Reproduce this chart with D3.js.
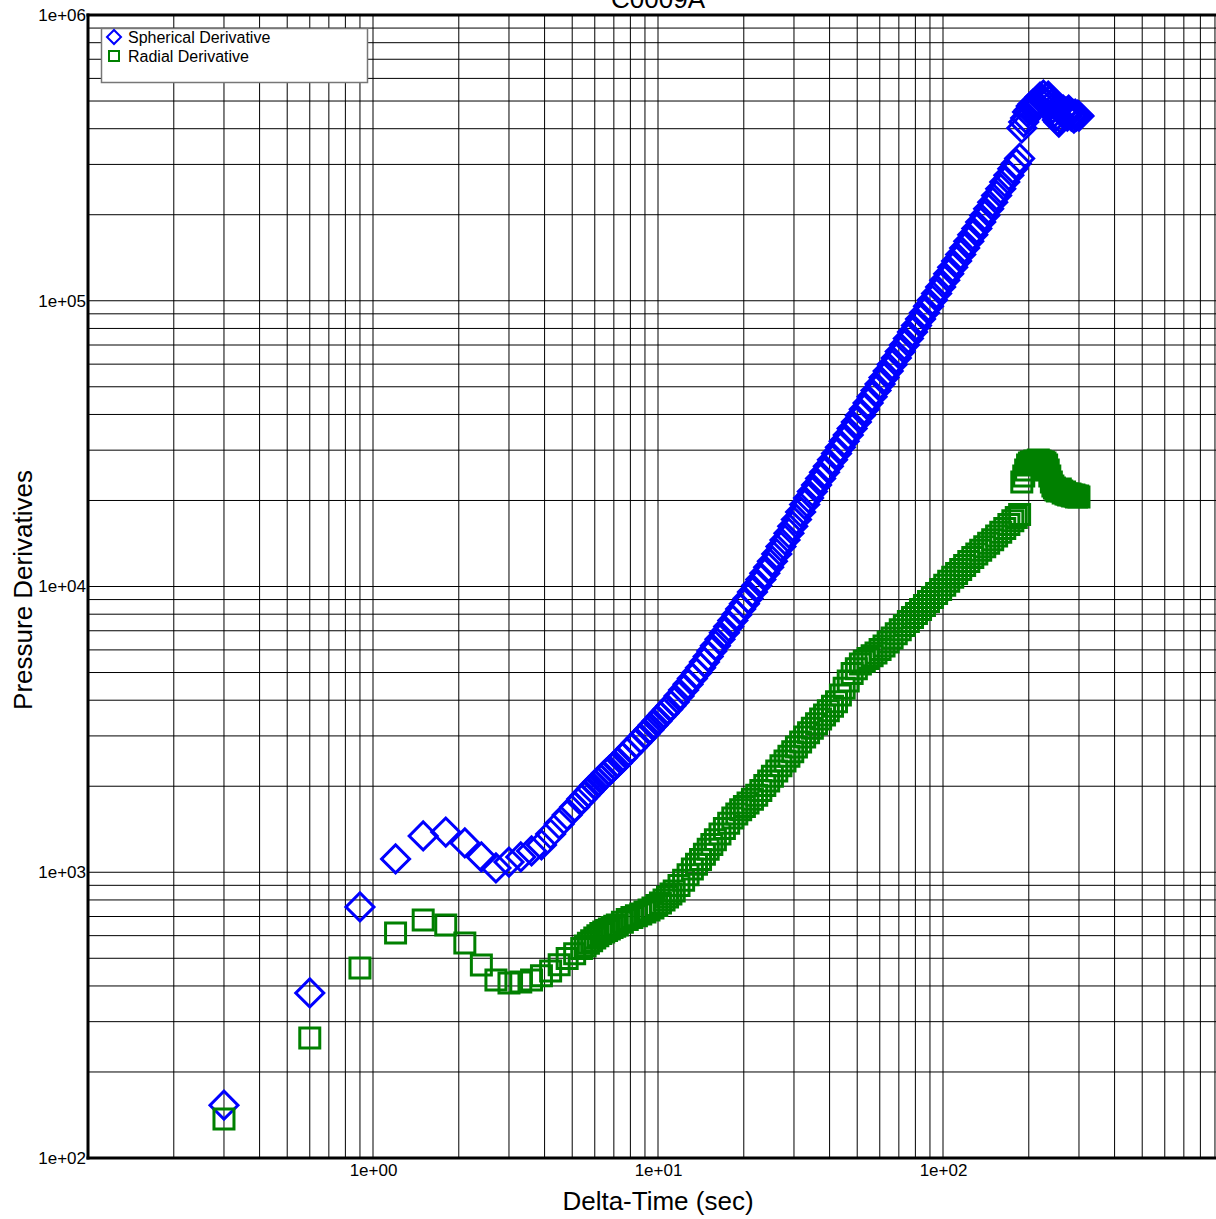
<!DOCTYPE html>
<meta charset="utf-8">
<style>
    body { margin: 0; background: #fff; }
    svg { display: block; font-family: Arial, "Liberation Sans", sans-serif; }
    .grid line { stroke: #000; stroke-width: 1; }
    .frame { stroke: #000; stroke-width: 3; }
</style>
<svg width="1216" height="1219"></svg>
<script src="https://d3js.org/d3.v7.min.js"></script>
<script>

    // delta-time (sec) of each sample
    var times = [0.3,0.6,0.9,1.2,1.5,1.8,2.1,2.4,2.7,3.0,3.3,3.6,3.9,4.2,4.5,4.8,5.1,
        5.4,5.55,5.7,5.85,6.0,6.15,6.3,6.45,6.6,6.75,
        6.9,7.05,7.2,7.5,7.8,8.1,8.4,8.7,9.0,9.3,
        9.6,9.9,10.2,10.5,10.8,11.1,11.4,11.85,12.3,12.75,
        13.2,13.65,14.1,14.55,15.0,15.45,15.9,16.5,17.1,17.7,
        18.3,18.9,19.5,20.1,20.7,21.45,22.2,22.95,23.7,24.45,
        25.2,26.1,27.0,27.9,28.8,29.7,30.6,31.65,32.7,33.75,
        34.8,36.0,37.2,38.4,39.6,40.95,42.3,43.65,45.0,46.5,
        48.0,49.65,51.3,52.95,54.6,56.4,58.2,60.15,62.1,64.2,
        66.3,68.55,70.8,73.2,75.6,78.15,80.7,83.4,86.1,88.95,
        91.8,94.95,98.1,101.4,104.7,108.15,111.6,115.35,119.1,123.15,
        127.2,131.4,135.6,140.1,144.6,149.4,154.2,159.45,164.7,170.25,
        175.8,180.75,185.7,
        189,192,195,198,201,204,207,210,213,216,219,222,225,228,231,234,237,240,243,246,
        249,252,255,258,261,264,267,270,273,276,279,282,285,288,291,294,297,300];

    var spherical = [153,378,756,1113,1340,1383,1266,1131,1035,1086,1131,1187,1246,1361,1475,1586,1692,
        1804,1856,1909,1964,2020,2069,2120,2172,2225,2271,
        2317,2364,2412,2517,2627,2729,2834,2938,3046,3155,
        3268,3379,3494,3603,3715,3828,3944,4140,4345,4552,
        4769,4978,5197,5439,5693,5943,6205,6539,6890,7241,
        7610,7969,8344,8708,9087,9571,10080,10587,11120,11676,
        12260,13002,13790,14558,15370,16240,17160,18237,19380,20413,
        21500,22659,23880,25084,26350,27752,29230,30703,32250,33927,
        35690,37642,39700,41738,43880,46160,48560,51128,53830,56732,
        59790,63019,66420,70008,73790,77745,81910,86254,90830,95590,
        100600,106053,111800,117884,124300,130877,137800,145203,153000,161371,
        170200,179165,188600,198917,209800,221284,233400,246533,260400,274751,
        289900,302140,314900,
        402300,422200,436000,457600,465000,480300,488100,472600,488100,504100,516400,508200,524800,496000,512300,520600,504100,488100,472600,457600,
        443100,429000,422200,436000,457600,465000,450300,457600,443100,465000,457600,443100,450300,436000,450300,443100,446700,443100];

    var radial = [137,263,462,613,681,654,565,474,420,410,413,420,434,451,475,499,519,
        541,552,564,576,589,600,611,618,626,633,
        641,647,654,668,683,694,705,715,726,738,
        750,765,780,799,819,839,860,898,937,981,
        1027,1067,1109,1155,1203,1250,1299,1360,1424,1485,
        1548,1600,1654,1699,1746,1802,1859,1934,2012,2088,
        2167,2261,2358,2451,2547,2643,2742,2855,2972,3080,
        3192,3312,3436,3554,3677,3813,3954,4173,4404,4674,
        4961,5152,5351,5472,5595,5724,5855,6021,6192,6398,
        6610,6831,7060,7296,7540,7788,8045,8308,8580,8859,
        9146,9453,9770,10095,10430,10765,11110,11474,11850,12234,
        12630,13000,13380,13769,14170,14584,15010,15483,15970,16467,
        16980,17425,17880,
        23210,24360,25560,26620,27050,27270,27270,27490,27270,27710,27490,27270,27270,27050,26620,25560,24360,23210,22470,22110,
        21760,21580,21760,21930,21580,21240,21410,21060,21060,20890,21060,20890,20730,20890,20730,20560,20730,20560];

    var xLabels = [1, 10, 100];
    var yLabels = [1e2, 1e3, 1e4, 1e5, 1e6];

    var svg = d3.select("svg");

    var x = d3.scaleLog().domain([0.1, 1000]).range([88, 1228]);
    var y = d3.scaleLog().domain([100, 1e6]).range([1158, 15]);

    function expLabel(d) {
        var p = Math.round(Math.log10(d));
        return "1e" + (p < 0 ? "-" : "+") + (Math.abs(p) < 10 ? "0" : "") + Math.abs(p);
    }

    // grid
    var grid = svg.append("g").attr("class", "grid");
    grid.selectAll("line.v")
        .data(x.ticks())
        .enter().append("line")
        .attr("class", "v")
        .attr("x1", function(d) { return x(d); })
        .attr("x2", function(d) { return x(d); })
        .attr("y1", y(1e6))
        .attr("y2", y(100));
    grid.selectAll("line.h")
        .data(y.ticks())
        .enter().append("line")
        .attr("class", "h")
        .attr("x1", x(0.1))
        .attr("x2", x(1000))
        .attr("y1", function(d) { return y(d); })
        .attr("y2", function(d) { return y(d); });

    // frame
    svg.append("line").attr("class", "frame")
        .attr("x1", x(0.1) - 1.5).attr("x2", 1216).attr("y1", y(1e6)).attr("y2", y(1e6));
    svg.append("line").attr("class", "frame")
        .attr("x1", x(0.1) - 1.5).attr("x2", 1216).attr("y1", y(100)).attr("y2", y(100));
    svg.append("line").attr("class", "frame")
        .attr("x1", x(0.1)).attr("x2", x(0.1)).attr("y1", y(1e6) - 1.5).attr("y2", y(100) + 1.5);

    // axes labels
    svg.append("g")
        .attr("transform", "translate(0," + (y(100) + 3) + ")")
        .call(d3.axisBottom(x).tickValues(xLabels).tickSize(0).tickPadding(3).tickFormat(expLabel))
        .call(function(g) { g.select(".domain").remove(); })
        .selectAll("text")
        .attr("font-size", 17)
        .attr("font-family", "Arial, 'Liberation Sans', sans-serif")
        .attr("fill", "#000");

    svg.append("g")
        .attr("transform", "translate(" + (x(0.1) - 1) + ",0)")
        .call(d3.axisLeft(y).tickValues(yLabels).tickSize(0).tickPadding(1).tickFormat(expLabel))
        .call(function(g) { g.select(".domain").remove(); })
        .selectAll("text")
        .attr("font-size", 17)
        .attr("font-family", "Arial, 'Liberation Sans', sans-serif")
        .attr("fill", "#000");

    svg.append("text")
        .attr("x", 658).attr("y", 1210)
        .attr("text-anchor", "middle")
        .attr("font-size", 26)
        .text("Delta-Time (sec)");

    svg.append("text")
        .attr("transform", "translate(32,590) rotate(-90)")
        .attr("text-anchor", "middle")
        .attr("font-size", 26)
        .text("Pressure Derivatives");

    svg.append("text")
        .attr("x", 658).attr("y", 8)
        .attr("text-anchor", "middle")
        .attr("font-size", 26)
        .text("C0009A");

    // data points
    var points = times.map(function(t, i) {
        return { t: t, s: spherical[i], r: radial[i] };
    });

    var square = d3.symbol().type(d3.symbolSquare).size(400);
    var diamond = d3.symbol().type(d3.symbolSquare).size(392);

    svg.append("g")
        .selectAll("path")
        .data(points)
        .enter().append("path")
        .attr("d", diamond)
        .attr("transform", function(d) { return "translate(" + x(d.t) + "," + y(d.s) + ") rotate(45)"; })
        .attr("fill", "none")
        .attr("stroke", "#0000ff")
        .attr("stroke-width", 3);

    svg.append("g")
        .selectAll("path")
        .data(points)
        .enter().append("path")
        .attr("d", square)
        .attr("transform", function(d) { return "translate(" + x(d.t) + "," + y(d.r) + ")"; })
        .attr("fill", "none")
        .attr("stroke", "#008000")
        .attr("stroke-width", 3);

    // legend
    var legend = svg.append("g");
    legend.append("rect")
        .attr("x", 101.5).attr("y", 28.5)
        .attr("width", 266).attr("height", 54)
        .attr("fill", "#fff")
        .attr("stroke", "#777")
        .attr("stroke-width", 1.5);
    legend.append("path")
        .attr("d", d3.symbol().type(d3.symbolSquare).size(98))
        .attr("transform", "translate(114,37) rotate(45)")
        .attr("fill", "none").attr("stroke", "#0000ff").attr("stroke-width", 2);
    legend.append("path")
        .attr("d", d3.symbol().type(d3.symbolSquare).size(100))
        .attr("transform", "translate(114,56)")
        .attr("fill", "none").attr("stroke", "#008000").attr("stroke-width", 2);
    legend.append("text")
        .attr("x", 128).attr("y", 43)
        .attr("font-size", 16)
        .text("Spherical Derivative");
    legend.append("text")
        .attr("x", 128).attr("y", 62)
        .attr("font-size", 16)
        .text("Radial Derivative");

</script>
